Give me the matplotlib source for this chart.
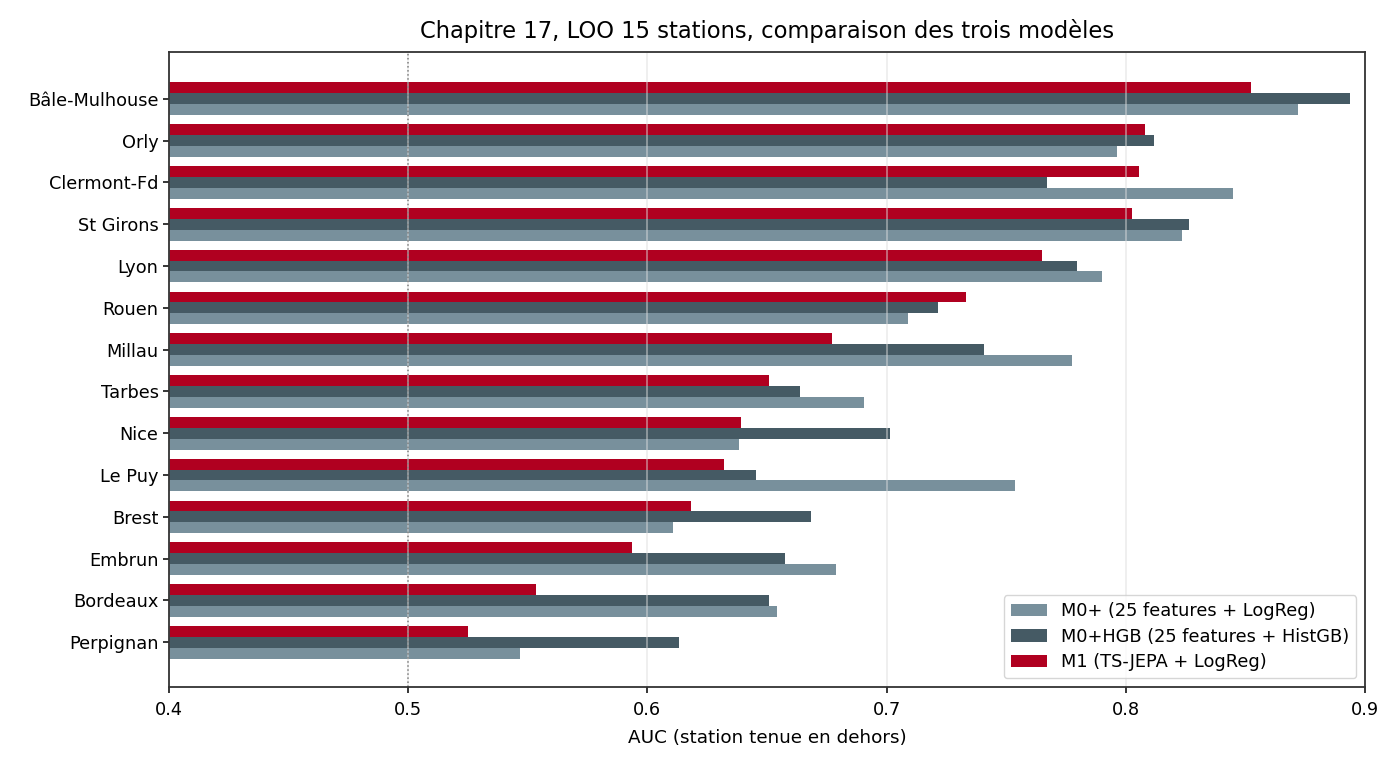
import numpy as np
import matplotlib
matplotlib.use("Agg")
import matplotlib.pyplot as plt

stations = ["Bâle-Mulhouse", "Orly", "Clermont-Fd", "St Girons", "Lyon", "Rouen", "Millau",
            "Tarbes", "Nice", "Le Puy", "Brest", "Embrun", "Bordeaux", "Perpignan"]
m0 = [0.872, 0.7965, 0.845, 0.8233, 0.7899, 0.7088, 0.7774,
      0.6904, 0.6385, 0.7537, 0.6106, 0.6789, 0.6543, 0.5467]
m0_hgb = [0.8939, 0.8116, 0.7669, 0.8266, 0.7794, 0.7216, 0.7407,
          0.6638, 0.7015, 0.6454, 0.6684, 0.6575, 0.651, 0.6133]
m1 = [0.8522, 0.808, 0.8056, 0.8024, 0.765, 0.7331, 0.6773,
      0.651, 0.639, 0.632, 0.6182, 0.5936, 0.5535, 0.525]

labels = ["M0+ (25 features + LogReg)", "M0+HGB (25 features + HistGB)", "M1 (TS-JEPA + LogReg)"]
colors = ["#78909c", "#455a64", "#b00020"]

fig = plt.figure(figsize=(14, 7.7), dpi=100)
ax = fig.add_axes([0.1207, 0.1078, 0.8543, 0.8247])

y = np.arange(len(stations))
h = 0.26
ax.barh(y + h, m0, height=h, color=colors[0], label=labels[0])
ax.barh(y, m0_hgb, height=h, color=colors[1], label=labels[1])
ax.barh(y - h, m1, height=h, color=colors[2], label=labels[2])

ax.axvline(0.5, color="gray", linestyle=":", linewidth=1.1)
ax.grid(axis="x", color="#dddddd", alpha=0.6, linewidth=1.1)

ax.set_yticks(y)
ax.set_yticklabels(stations, fontsize=12.8)
ax.set_xlim(0.4, 0.9)
ax.set_ylim(14.07, -1.12)
ax.set_xticks([0.4, 0.5, 0.6, 0.7, 0.8, 0.9])
ax.set_xticklabels(["0.4", "0.5", "0.6", "0.7", "0.8", "0.9"], fontsize=12.8)
ax.tick_params(length=4, width=1.1)
ax.tick_params(axis="x", pad=6)
ax.set_xlabel("AUC (station tenue en dehors)", fontsize=13.2, labelpad=7)
ax.set_title("Chapitre 17, LOO 15 stations, comparaison des trois modèles", fontsize=16.3, pad=10)
for s in ax.spines.values():
    s.set_color("#333333")
    s.set_linewidth(1.3)

ax.legend(loc="lower right", fontsize=12.8, labelspacing=0.42)

fig.savefig("out.png", dpi=100)
